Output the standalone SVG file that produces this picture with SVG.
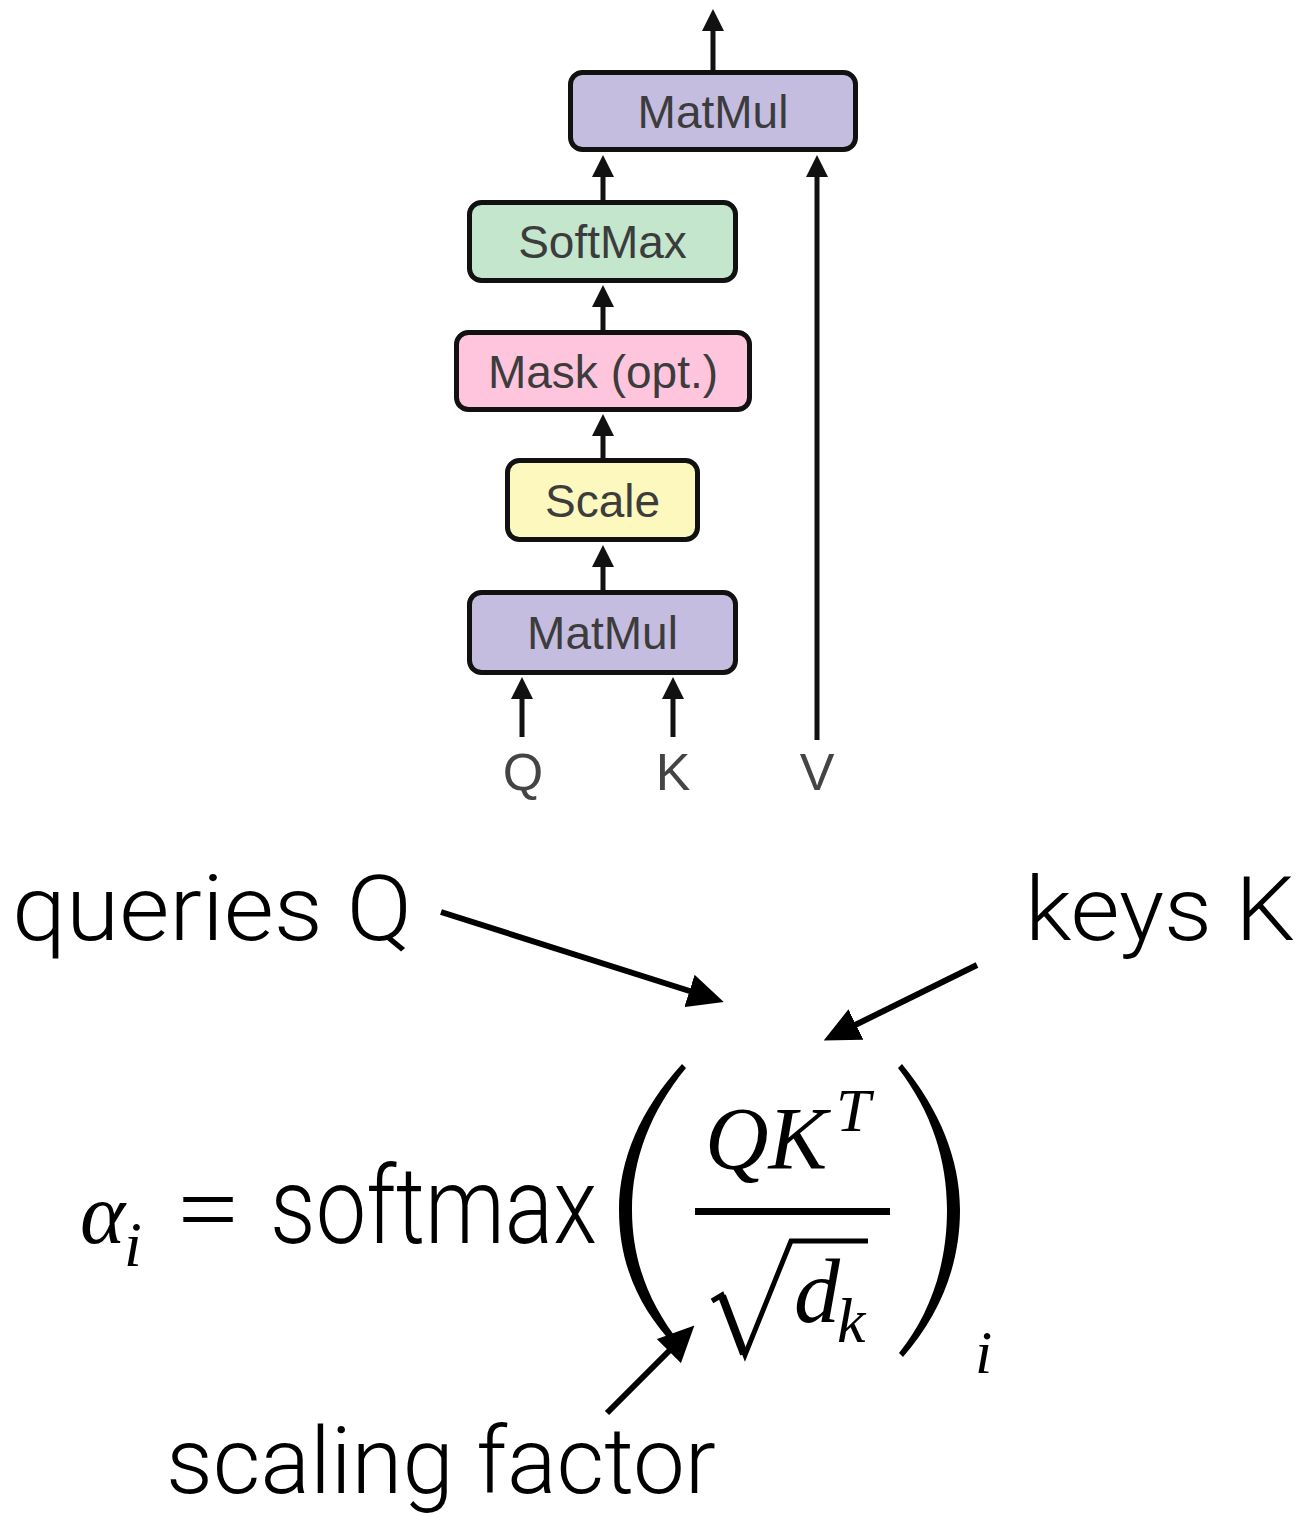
<svg xmlns="http://www.w3.org/2000/svg" width="1312" height="1517" viewBox="0 0 1312 1517">
<style>
.box{stroke:#111;stroke-width:5}
.bt{font-family:"Liberation Sans",Arial,sans-serif;font-size:46px;fill:#3c3c3c;text-anchor:middle}
.io{font-family:"Liberation Sans",Arial,sans-serif;font-size:52px;fill:#444;text-anchor:middle}
.lab{font-family:Roboto,"Liberation Sans",Arial,sans-serif;font-weight:300;fill:#000}
.m{font-family:"Liberation Serif","Times New Roman",serif;font-style:italic;fill:#000}
.c{stroke:#111;stroke-width:5;fill:none}
.cl{stroke:#000;stroke-width:6;fill:none}
</style>
<defs>
<marker id="ahS" viewBox="0 0 22 22" markerUnits="userSpaceOnUse" markerWidth="22" markerHeight="22" refX="12" refY="11" orient="auto"><path d="M0,0 L22,11 L0,22 Z" fill="#111"/></marker>
<marker id="ahL" viewBox="0 0 36 34" markerUnits="userSpaceOnUse" markerWidth="36" markerHeight="34" refX="10" refY="17" orient="auto"><path d="M0,0 L36,17 L0,34 Z" fill="#000"/></marker>
</defs>
<rect width="1312" height="1517" fill="#fff"/>
<g id="connectors">
<line class="c" x1="713" y1="70" x2="713" y2="19" marker-end="url(#ahS)"/>
<line class="c" x1="603" y1="200" x2="603" y2="165" marker-end="url(#ahS)"/>
<line class="c" x1="603" y1="330" x2="603" y2="295" marker-end="url(#ahS)"/>
<line class="c" x1="603" y1="458" x2="603" y2="424" marker-end="url(#ahS)"/>
<line class="c" x1="603" y1="590" x2="603" y2="555" marker-end="url(#ahS)"/>
<line class="c" x1="522" y1="737" x2="522" y2="687" marker-end="url(#ahS)"/>
<line class="c" x1="673" y1="737" x2="673" y2="687" marker-end="url(#ahS)"/>
<line class="c" x1="817" y1="740" x2="817" y2="165" marker-end="url(#ahS)"/>
<line class="cl" x1="441" y1="912" x2="699" y2="994" marker-end="url(#ahL)"/>
<line class="cl" x1="977" y1="965" x2="847" y2="1029" marker-end="url(#ahL)"/>
<line class="cl" x1="607" y1="1413" x2="676" y2="1344" marker-end="url(#ahL)"/>
</g>
<g id="matmul-top"><rect class="box" x="570.5" y="72.5" width="285" height="77" rx="12" fill="#c5bde0"/><text class="bt" x="713" y="127.5">MatMul</text></g>
<g id="softmax"><rect class="box" x="469.5" y="202.5" width="266" height="78" rx="12" fill="#c3e6cc"/><text class="bt" x="602.5" y="258">SoftMax</text></g>
<g id="mask"><rect class="box" x="456.5" y="332.5" width="293" height="77" rx="12" fill="#fec5dc"/><text class="bt" x="603" y="387.5">Mask (opt.)</text></g>
<g id="scale"><rect class="box" x="507.5" y="460.5" width="190" height="79" rx="12" fill="#fdf8be"/><text class="bt" x="602.5" y="516.5">Scale</text></g>
<g id="matmul-bottom"><rect class="box" x="469.5" y="592.5" width="266" height="80" rx="12" fill="#c5bde0"/><text class="bt" x="602.5" y="649">MatMul</text></g>
<g id="inputs">
<text class="io" x="523" y="790">Q</text>
<text class="io" x="673" y="790">K</text>
<text class="io" x="817" y="790">V</text>
</g>
<g id="label-queries"><text class="lab" x="12" y="940" font-size="91" textLength="400" lengthAdjust="spacingAndGlyphs">queries Q</text></g>
<g id="label-keys"><text class="lab" x="1025" y="940" font-size="89" textLength="270" lengthAdjust="spacingAndGlyphs">keys K</text></g>
<g id="label-scaling"><text class="lab" x="166" y="1493" font-size="92" textLength="550" lengthAdjust="spacingAndGlyphs">scaling factor</text></g>
<g id="formula">
<text class="m" x="80" y="1243" font-size="86">α</text>
<text class="m" x="124" y="1266" font-size="64">i</text>
<text x="178" y="1243" font-family="'Liberation Serif','Times New Roman',serif" font-size="100" textLength="60" lengthAdjust="spacingAndGlyphs">=</text>
<text class="lab" x="270" y="1243" font-size="108" textLength="327" lengthAdjust="spacingAndGlyphs">softmax</text>
<path d="M682,1064 C640,1110 619,1160 619,1210 C619,1265 640,1310 676,1347 L680,1343 C650,1305 632,1262 632,1210 C632,1160 650,1112 686,1068 Z" fill="#000"/>
<path d="M902,1064 C940,1110 960,1160 960,1210 C960,1265 940,1315 903,1357 L899,1353 C932,1312 947,1262 947,1210 C947,1160 932,1112 898,1068 Z" fill="#000"/>
<text class="m" x="705" y="1168" font-size="88">QK</text>
<text class="m" x="836" y="1131" font-size="62">T</text>
<rect x="695" y="1208" width="195" height="7" fill="#000"/>
<path d="M712,1301 L722,1295 L745,1355 L791,1241 L868,1241" fill="none" stroke="#000" stroke-width="5" stroke-linejoin="miter"/>
<line x1="722" y1="1296" x2="744" y2="1354" stroke="#000" stroke-width="8"/>
<text class="m" x="794" y="1322" font-size="92">d</text>
<text class="m" x="837" y="1342" font-size="64">k</text>
<text class="m" x="975" y="1373" font-size="62">i</text>
</g>
</svg>
